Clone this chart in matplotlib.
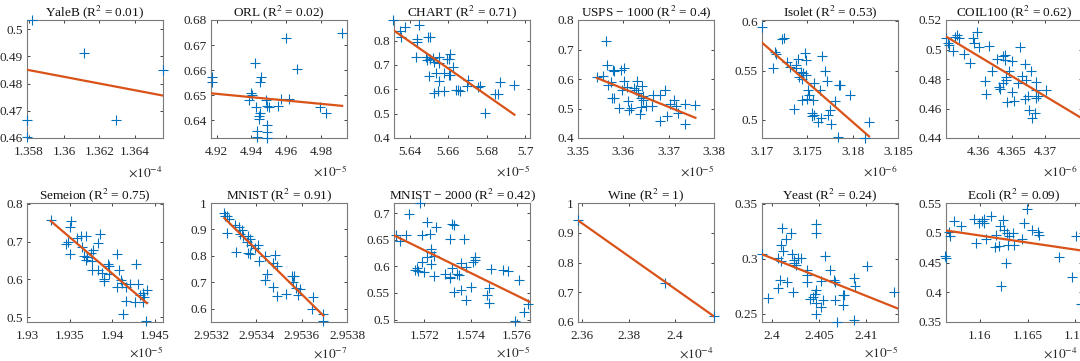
import matplotlib
matplotlib.use('Agg')
import matplotlib.pyplot as plt
import numpy as np
from matplotlib.ticker import FuncFormatter

plt.rcParams['font.family'] = ['Liberation Serif', 'DejaVu Serif']
plt.rcParams['mathtext.fontset'] = 'stix'

# --- data (x values are in units of 10^exponent) ---
names = ['YaleB', 'ORL', 'CHART', 'USPS \u2212 1000', 'Isolet', 'COIL100',
         'Semeion', 'MNIST', 'MNIST \u2212 2000', 'Wine', 'Yeast', 'Ecoli']
r2 = ['0.01', '0.02', '0.71', '0.4', '0.53', '0.62',
      '0.75', '0.91', '0.42', '1', '0.24', '0.09']
exponents = [-4, -5, -5, -5, -6, -6, -5, -7, -5, -4, -5, -4]

yaleb_x = [1.35819, 1.36110, 1.36295, 1.36562, 1.3579, 1.3579]
yaleb_y = [0.5034, 0.4912, 0.4666, 0.4849, 0.4668, 0.4605]

orl_x = [4.9172, 4.9172, 4.992, 4.9598, 4.9421, 4.9452, 4.9449, 4.9664, 4.9396, 4.9402,
         4.9387, 4.9428, 4.9447, 4.9445, 4.9441, 4.9486, 4.949, 4.9501, 4.9551, 4.957,
         4.9613, 4.9793, 4.983, 4.9434, 4.949, 4.949, 4.949, 4.9434]
orl_y = [0.6574, 0.6553, 0.675, 0.6728, 0.6629, 0.6574, 0.6553, 0.6603, 0.6508, 0.6501,
         0.6482, 0.6455, 0.6429, 0.6418, 0.6405, 0.6482, 0.6458, 0.6455, 0.6458, 0.6484,
         0.6484, 0.6455, 0.6429, 0.6359, 0.6382, 0.6355, 0.6329, 0.6333]

chart_x = [5.6314, 5.6347, 5.6353, 5.6374, 5.6449, 5.6437, 5.644, 5.6432, 5.6493, 5.6507,
           5.6484, 5.6489, 5.6505, 5.6519, 5.6528, 5.6554, 5.6554, 5.6593, 5.6607, 5.6605,
           5.6625, 5.6502, 5.6537, 5.6554, 5.658, 5.6605, 5.6611, 5.6528, 5.6546, 5.658,
           5.6642, 5.665, 5.666, 5.6703, 5.6698, 5.6756, 5.6765, 5.6791, 5.6844, 5.6858,
           5.6867, 5.6944]
chart_y = [0.8846, 0.841, 0.8136, 0.857, 0.864, 0.8055, 0.796, 0.7318, 0.8136, 0.8136,
           0.7345, 0.7209, 0.7236, 0.7277, 0.714, 0.7345, 0.7073, 0.7236, 0.7454, 0.7236,
           0.6936, 0.6527, 0.6663, 0.6322, 0.6663, 0.6595, 0.6595, 0.5845, 0.5913, 0.5913,
           0.5982, 0.5954, 0.5913, 0.639, 0.6145, 0.6091, 0.6145, 0.5027, 0.5818, 0.5818,
           0.6282, 0.6186]

usps_x = [3.3561, 3.3564, 3.3556, 3.3542, 3.3578, 3.358, 3.3594, 3.3601, 3.3567, 3.3572,
          3.3575, 3.358, 3.359, 3.3597, 3.3601, 3.3608, 3.361, 3.3613, 3.3617, 3.3623,
          3.3628, 3.3631, 3.3632, 3.3638, 3.3642, 3.3644, 3.364, 3.3637, 3.3649, 3.3644,
          3.3666, 3.3664, 3.368, 3.368, 3.3692, 3.3696, 3.3702, 3.3712, 3.3717, 3.3721,
          3.3735, 3.3735, 3.3759]
usps_y = [0.7303, 0.646, 0.609, 0.6067, 0.6315, 0.627, 0.6315, 0.637, 0.581, 0.5888,
          0.536, 0.536, 0.5022, 0.564, 0.592, 0.573, 0.5247, 0.4966, 0.5022, 0.5697,
          0.564, 0.592, 0.5528, 0.536, 0.5775, 0.5281, 0.5056, 0.4798, 0.5101, 0.5416,
          0.5472, 0.5101, 0.5472, 0.4573, 0.564, 0.4742, 0.5169, 0.5303, 0.5101, 0.4854,
          0.446, 0.5169, 0.5135]

isolet_x = [3.17, 3.1712, 3.1714, 3.1715, 3.1722, 3.1724, 3.1728, 3.1731, 3.1737, 3.1738,
            3.174, 3.1741, 3.1743, 3.1745, 3.1744, 3.1747, 3.1748, 3.1749, 3.175, 3.1751,
            3.1744, 3.1735, 3.1752, 3.1756, 3.1757, 3.1764, 3.1755, 3.1757, 3.1755, 3.1762,
            3.1765, 3.1766, 3.1769, 3.1772, 3.1773, 3.1775, 3.1776, 3.178, 3.1785, 3.1786,
            3.1784, 3.1797, 3.1814, 3.1818]
isolet_y = [0.5946, 0.5524, 0.5693, 0.5669, 0.5818, 0.5828, 0.5591, 0.5541, 0.5524, 0.5557,
            0.5615, 0.5439, 0.549, 0.5473, 0.5412, 0.5676, 0.5608, 0.5456, 0.5209, 0.5304,
            0.5203, 0.5108, 0.5253, 0.5203, 0.5378, 0.5304, 0.5068, 0.5051, 0.5034, 0.4973,
            0.5017, 0.5649, 0.55, 0.5389, 0.5051, 0.5101, 0.496, 0.5186, 0.5355, 0.5355,
            0.4824, 0.5253, 0.4814, 0.4973]

coil_x = [4.3552, 4.3555, 4.3557, 4.3565, 4.3568, 4.3572, 4.3562, 4.3579, 4.3588, 4.3593,
          4.3594, 4.3599, 4.3601, 4.3616, 4.361, 4.3612, 4.3621, 4.3628, 4.3631, 4.3632,
          4.3637, 4.364, 4.364, 4.3641, 4.3642, 4.3646, 4.3637, 4.3643, 4.365, 4.365,
          4.3654, 4.366, 4.3663, 4.3666, 4.367, 4.3672, 4.3676, 4.3679, 4.368, 4.3685,
          4.3687, 4.3687, 4.3687, 4.369, 4.367, 4.3675, 4.3702]
coil_y = [0.5076, 0.5047, 0.5031, 0.5088, 0.5099, 0.5076, 0.4993, 0.4971, 0.4908, 0.5076,
          0.5043, 0.5117, 0.502, 0.5025, 0.4784, 0.4701, 0.4852, 0.4935, 0.4746, 0.4733,
          0.4957, 0.4964, 0.493, 0.4796, 0.4814, 0.4852, 0.4773, 0.4643, 0.4919, 0.471,
          0.465, 0.4773, 0.5016, 0.4818, 0.4903, 0.4796, 0.4589, 0.4852, 0.4537, 0.4571,
          0.4778, 0.4728, 0.4672, 0.4688, 0.4665, 0.4688, 0.4728]

semeion_x = [1.9328, 1.9352, 1.9351, 1.9346, 1.9348, 1.935, 1.9359, 1.9363, 1.9369, 1.9365,
             1.9367, 1.9369, 1.9371, 1.9375, 1.9378, 1.9376, 1.9377, 1.9383, 1.9386, 1.9383,
             1.9388, 1.939, 1.9391, 1.9395, 1.9397, 1.9396, 1.9406, 1.9408, 1.941, 1.9406,
             1.9412, 1.9413, 1.9417, 1.9417, 1.9421, 1.9428, 1.9431, 1.9427, 1.9433, 1.9436,
             1.9438, 1.9437, 1.9441, 1.944]
semeion_y = [0.7559, 0.7541, 0.7382, 0.6941, 0.6985, 0.6658, 0.71, 0.7135, 0.7135, 0.6853,
             0.6606, 0.6517, 0.6588, 0.6694, 0.6764, 0.6482, 0.6252, 0.6959, 0.7188, 0.6235,
             0.6164, 0.6014, 0.5952, 0.6394, 0.6341, 0.6147, 0.6658, 0.6252, 0.597, 0.5793,
             0.5899, 0.507, 0.5423, 0.5793, 0.5864, 0.6394, 0.5864, 0.5396, 0.5573, 0.5635,
             0.5529, 0.5396, 0.5705, 0.4893]

mnist_x = [2.953259, 2.953262, 2.953269, 2.953281, 2.953269, 2.953306, 2.953325, 2.953335,
           2.953328, 2.953343, 2.953357, 2.953372, 2.953365, 2.953375, 2.95331, 2.953365,
           2.953372, 2.953394, 2.953409, 2.953413, 2.953438, 2.953438, 2.953449, 2.953475,
           2.953482, 2.953475, 2.953493, 2.95349, 2.953531, 2.953556, 2.953566, 2.953563,
           2.953575, 2.953593, 2.953585, 2.953651, 2.953644, 2.953696, 2.953693]
mnist_y = [0.9618, 0.9516, 0.949, 0.9388, 0.8853, 0.9172, 0.9083, 0.8981,
           0.8828, 0.8752, 0.8535, 0.8624, 0.8752, 0.8408, 0.8153, 0.8114,
           0.8064, 0.828, 0.8408, 0.7809, 0.7987, 0.707, 0.7299, 0.6815,
           0.8025, 0.7732, 0.7605, 0.6458, 0.656, 0.7223, 0.7223, 0.7006,
           0.679, 0.6751, 0.6496, 0.6433, 0.5987, 0.5796, 0.5516]

mnist2k_x = [1.57075, 1.57092, 1.57118, 1.57132, 1.57182, 1.5716, 1.57167, 1.57172, 1.57189,
             1.57189, 1.572, 1.5721, 1.5721, 1.57224, 1.5723, 1.5723, 1.5724, 1.5723, 1.5724,
             1.5725, 1.5729, 1.5731, 1.5731, 1.5731, 1.5732, 1.5732, 1.5733, 1.5733, 1.5734,
             1.5735, 1.5736, 1.5736, 1.5737, 1.5738, 1.5738, 1.574, 1.5741, 1.5742, 1.5742,
             1.5747, 1.5748, 1.5748, 1.5749, 1.5754, 1.5756, 1.5761, 1.5763, 1.5759, 1.5765]
mnist2k_y = [0.6581, 0.6475, 0.6581, 0.6988, 0.7188, 0.5938, 0.5975, 0.5913, 0.6081,
             0.6581, 0.5894, 0.6831, 0.6175, 0.66, 0.6331, 0.6269, 0.6188, 0.605, 0.5813,
             0.6738, 0.585, 0.5788, 0.58, 0.6519, 0.5975, 0.68, 0.6769, 0.5519, 0.5863,
             0.5831, 0.6063, 0.555, 0.6519, 0.5988, 0.5375, 0.5613, 0.6081, 0.6175, 0.6125,
             0.5456, 0.5313, 0.56, 0.5956, 0.5925, 0.5913, 0.5738, 0.5144, 0.4975, 0.5288]

wine_x = [2.3581, 2.3956, 2.4169]
wine_y = [0.9436, 0.7316, 0.619]

yeast_x = [2.3989, 2.3996, 2.4006, 2.4006, 2.4009, 2.401, 2.4011, 2.4012, 2.401, 2.4015,
           2.4016, 2.402, 2.4021, 2.4022, 2.4023, 2.4024, 2.4026, 2.4028, 2.4031, 2.4037,
           2.4037, 2.4037, 2.4041, 2.4044, 2.4047, 2.4047, 2.4047, 2.4046, 2.4047, 2.4047,
           2.4052, 2.4052, 2.4054, 2.4056, 2.4062, 2.4066, 2.4067, 2.4067, 2.4069, 2.4076,
           2.4077, 2.4076, 2.4087, 2.4088, 2.4087, 2.4101, 2.413]
yeast_y = [0.304, 0.2646, 0.3009, 0.2736, 0.2809, 0.3121, 0.3282, 0.307, 0.2979, 0.3182,
           0.2788, 0.3233, 0.304, 0.2697, 0.2961, 0.2991, 0.2939, 0.3009, 0.3009, 0.2894,
           0.2788, 0.2848, 0.2636, 0.2651, 0.3318, 0.3233, 0.2718, 0.2682, 0.2597, 0.2494,
           0.2561, 0.2797, 0.2627, 0.3021, 0.2894, 0.2803, 0.2788, 0.2627, 0.2424, 0.2667,
           0.2667, 0.2576, 0.2827, 0.2749, 0.2446, 0.293, 0.2697]

ecoli_x = [1.15636, 1.15643, 1.1567, 1.1568, 1.1573, 1.158, 1.1594, 1.1596, 1.1599, 1.1602,
           1.1604, 1.1604, 1.1606, 1.1611, 1.1617, 1.1616, 1.162, 1.1621, 1.1622, 1.1624,
           1.1625, 1.1627, 1.1628, 1.1629, 1.163, 1.1635, 1.1636, 1.1644, 1.1646, 1.1649,
           1.1655, 1.1661, 1.1662, 1.1683, 1.1697, 1.1701, 1.1706]
ecoli_y = [0.461, 0.457, 0.5021, 0.4948, 0.519, 0.5106, 0.523, 0.4835, 0.5162, 0.519,
           0.523, 0.5162, 0.4892, 0.5286, 0.4965, 0.4768, 0.4779, 0.5117, 0.4103, 0.5218,
           0.5049, 0.4497, 0.5004, 0.4796, 0.4948, 0.5004, 0.4796, 0.4892, 0.5162, 0.5399,
           0.5049, 0.5021, 0.4965, 0.4587, 0.4261, 0.4948, 0.3798]

xs = [yaleb_x, orl_x, chart_x, usps_x, isolet_x, coil_x,
      semeion_x, mnist_x, mnist2k_x, wine_x, yeast_x, ecoli_x]
ys = [yaleb_y, orl_y, chart_y, usps_y, isolet_y, coil_y,
      semeion_y, mnist_y, mnist2k_y, wine_y, yeast_y, ecoli_y]

# regression line end points (x0, x1, y0, y1)
fit_x0 = [1.3579, 4.9168, 5.6318, 3.3542, 3.17, 4.3552, 1.9328, 2.953259, 1.57068, 2.3581, 2.39895, 1.15643]
fit_x1 = [1.3656, 4.992, 5.6944, 3.3759, 3.1818, 4.3755, 1.9441, 2.953696, 1.57657, 2.4169, 2.4134, 1.1707]
fit_y0 = [0.4851, 0.6508, 0.841, 0.6034, 0.5784, 0.5088, 0.7541, 0.9427, 0.6581, 0.9414, 0.304, 0.5038]
fit_y1 = [0.4756, 0.6458, 0.4958, 0.4685, 0.4831, 0.4533, 0.537, 0.5732, 0.5331, 0.619, 0.2546, 0.47]

# axis limits and ticks
xlims = [(1.3579, 1.3656), (4.9168, 4.9948), (5.6318, 5.7025), (3.35, 3.38),
         (3.17, 3.185), (4.3552, 4.3755), (1.93, 1.946), (2.9532, 2.9538),
         (1.57068, 1.57657), (2.3581, 2.4169), (2.39895, 2.4134), (1.15643, 1.1707)]
ylims = [(0.46, 0.5034), (0.633, 0.68), (0.4, 0.8846), (0.4, 0.8), (0.4814, 0.6014),
         (0.44, 0.52), (0.487, 0.802), (0.549, 1.0), (0.4956, 0.7188), (0.6, 1.0),
         (0.2424, 0.3506), (0.35, 0.55)]
xticks = [[1.358, 1.36, 1.362, 1.364], [4.92, 4.94, 4.96, 4.98], [5.64, 5.66, 5.68, 5.7],
          [3.35, 3.36, 3.37, 3.38], [3.17, 3.175, 3.18, 3.185], [4.36, 4.365, 4.37],
          [1.93, 1.935, 1.94, 1.945], [2.9532, 2.9534, 2.9536, 2.9538],
          [1.572, 1.574, 1.576], [2.36, 2.38, 2.4], [2.4, 2.405, 2.41], [1.16, 1.165, 1.17]]
yticks = [[0.46, 0.47, 0.48, 0.49, 0.5], [0.64, 0.65, 0.66, 0.67, 0.68],
          [0.4, 0.5, 0.6, 0.7, 0.8], [0.4, 0.5, 0.6, 0.7, 0.8], [0.5, 0.55, 0.6],
          [0.44, 0.46, 0.48, 0.5, 0.52], [0.5, 0.6, 0.7, 0.8], [0.6, 0.7, 0.8, 0.9, 1.0],
          [0.5, 0.55, 0.6, 0.65, 0.7], [0.6, 0.7, 0.8, 0.9, 1.0], [0.25, 0.3, 0.35],
          [0.35, 0.4, 0.45, 0.5, 0.55]]

# --- figure ---
W, H = 1080, 361
fig = plt.figure(figsize=(10.8, 3.61), dpi=100)
lefts = [27, 211, 394, 578, 762, 946]
width = 136
rows = [(20, 138), (203, 322)]
fmt = FuncFormatter(lambda v, p: '%g' % round(v, 6))

for i in range(12):
    r, c = divmod(i, 6)
    top, bot = rows[r]
    ax = fig.add_axes([lefts[c] / W, 1 - bot / H, width / W, (bot - top) / H])
    ax.plot(xs[i], ys[i], '+', color='#0072BD', ms=7, mew=0.8, clip_on=False, zorder=3)
    ax.plot([fit_x0[i], fit_x1[i]], [fit_y0[i], fit_y1[i]], color='#D95319', lw=1.6, zorder=4)
    ax.set_xlim(*xlims[i])
    ax.set_ylim(*ylims[i])
    ax.set_xticks(xticks[i])
    ax.set_yticks(yticks[i])
    ax.xaxis.set_major_formatter(fmt)
    ax.yaxis.set_major_formatter(fmt)
    ax.tick_params(direction='in', top=True, right=True, length=2.5, width=0.6,
                   color='#262626', labelcolor='#262626', labelsize=9.5)
    ax.tick_params(axis='x', pad=6)
    ax.tick_params(axis='y', pad=3)
    for s in ax.spines.values():
        s.set_color('#7a7a7a')
        s.set_linewidth(0.8)
    ax.set_title(f'{names[i]} (R$^2$ = {r2[i]})', fontsize=9.5, pad=3, color='#111111')
    yoff = -0.29 if r == 0 else -0.26
    xoff = 0.97 if c == 5 else 1.0
    ax.text(xoff, yoff, rf'$\times10^{{{exponents[i]}}}$', transform=ax.transAxes,
            ha='right', va='center', fontsize=9.5, color='#262626')

fig.savefig('out.png', dpi=100)
